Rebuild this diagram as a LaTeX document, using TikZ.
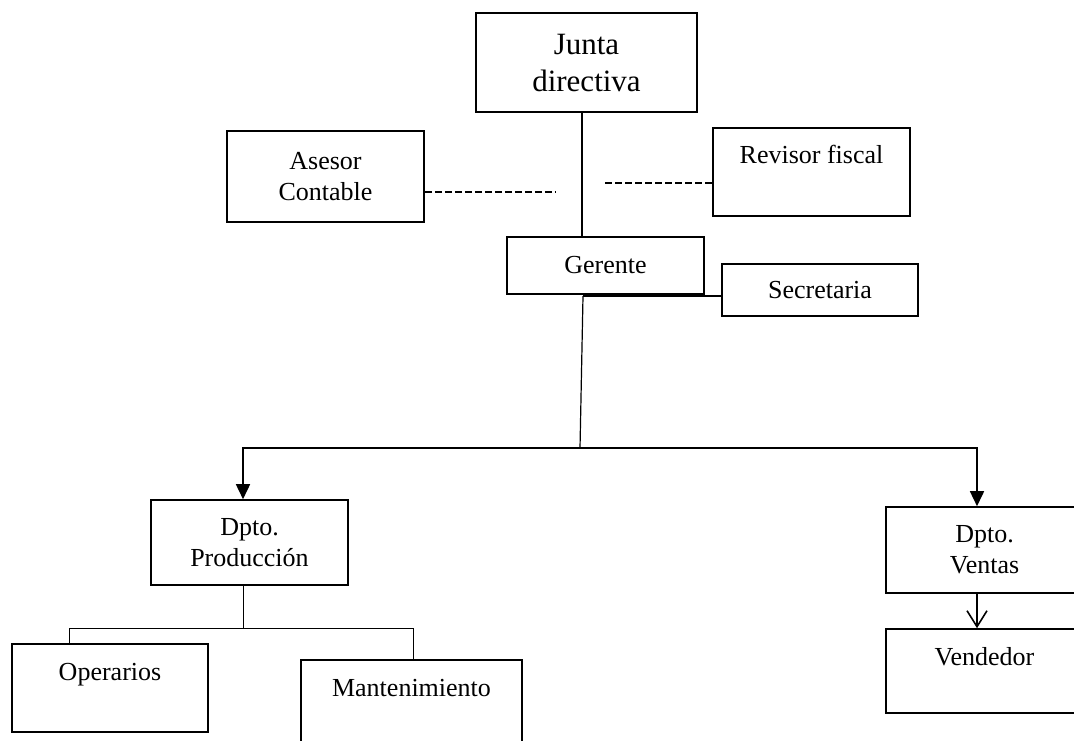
\documentclass[tikz,border=0pt]{standalone}
\usepackage{fontspec}
\setmainfont{Liberation Serif}
\usetikzlibrary{arrows.meta, positioning}

\begin{document}
\begin{tikzpicture}[
  x=0.5pt, y=-0.5pt,
  box/.style={rectangle, draw=black, thick, inner sep=0pt, align=center, font=\fontsize{13}{15.5}\selectfont},
  link/.style={thin},
  dashlink/.style={line width=0.6pt, dash pattern=on 3.5pt off 1.5pt},
  arrow/.style={thick, -{Triangle[length=7.5pt, width=7pt]}},
  openarrow/.style={thick, -{Straight Barb[length=8pt, width=10pt]}}
]
\useasboundingbox (0,0) rectangle (1074,740);

\node[box, minimum width=110.5pt, minimum height=49.5pt, font=\fontsize{15.5}{18.5}\selectfont] (junta) at (586.5,62.5) {Junta\\directiva};
\node[box, minimum width=98.5pt, minimum height=45.5pt] (asesor) at (325.5,176.5) {Asesor\\Contable};
\node[box, minimum width=98.5pt, text height=17.5pt, text depth=26.5pt] (revisor) at (811.5,172) {Revisor fiscal};
\node[box, minimum width=98.5pt, minimum height=28.5pt] (gerente) at (605.5,265.5) {Gerente};
\node[box, minimum width=98pt, minimum height=26pt] (secretaria) at (820,290) {Secretaria};
\node[box, minimum width=98.5pt, minimum height=42.5pt] (prod) at (249.5,542.5) {Dpto.\\Producción};
\node[box, minimum width=98.5pt, minimum height=43pt] (ventas) at (984.5,550) {Dpto.\\Ventas};
\node[box, minimum width=98.5pt, text height=18pt, text depth=24pt] (vendedor) at (984.5,671) {Vendedor};
\node[box, minimum width=98pt, text height=18.25pt, text depth=25.75pt] (op) at (110,688) {Operarios};
\node[box, minimum width=110.5pt, text height=18pt, text depth=24.5pt] (mant) at (411.5,702.5) {Mantenimiento};

% Lines
\coordinate (jg) at (582,113);
\draw[thick] (jg) -- (jg |- gerente.north);
\coordinate (ac) at (555,192);
\draw[dashlink] (ac -| asesor.east) -- (ac);
\coordinate (rf) at (605,183);
\draw[dashlink] (rf) -- (rf -| revisor.west);
\coordinate (gs) at (583,296);
\draw[semithick] (gs) -- (gs -| secretaria.west);
\coordinate (bus) at (580,448);
\draw[semithick] (gs) -- (bus);

% Arrows
\coordinate (pl) at (243,448);
\coordinate (vr) at (977,448);
\draw[arrow] (bus) -- (pl) -- (pl |- prod.north);
\draw[arrow] (bus) -- (vr) -- (vr |- ventas.north);
\draw[openarrow] (vr |- ventas.south) -- (vr |- vendedor.north);

\coordinate (pb) at (243,628);
\coordinate (ol) at (69,628);
\coordinate (ml) at (413,628);
\draw[link] (pb |- prod.south) -- (pb);
\draw[link] (ol |- op.north) -- (ol) -- (ml) -- (ml |- mant.north);

\end{tikzpicture}
\end{document}
